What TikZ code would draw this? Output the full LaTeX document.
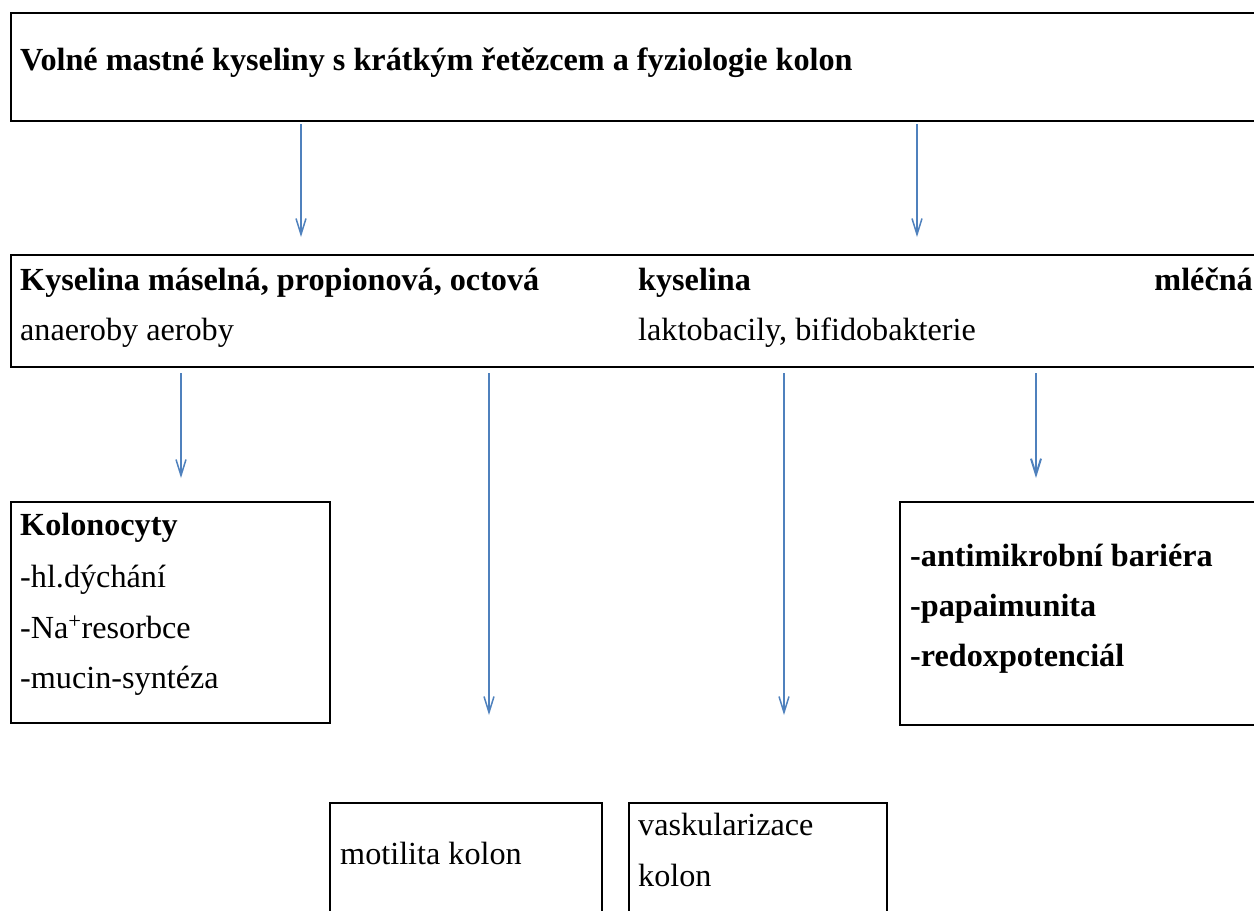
\documentclass[tikz,border=0pt]{standalone}
\usepackage{fontspec}
\setmainfont{Liberation Serif}
\usetikzlibrary{arrows.meta,calc}
\definecolor{arrowblue}{RGB}{79,129,189}
\begin{document}
\begin{tikzpicture}[x=1pt,y=-1pt,
  box/.style={draw, line width=2pt, rectangle, outer sep=0pt, inner sep=0pt, anchor=north west},
  txt/.style={anchor=base west, inner sep=0pt, font=\fontsize{32.2}{38}\selectfont},
  btxt/.style={anchor=base west, inner sep=0pt, font=\fontsize{32.2}{38}\selectfont\bfseries},
  arr/.style={draw=arrowblue, line width=1.5pt, -{Straight Barb[length=16pt,width=10pt]}}]
\useasboundingbox (0,0) rectangle (1254,911);
\clip (0,0) rectangle (1254,911);
% boxes
\node[box, minimum width=1260pt, minimum height=108pt] (top) at (11,13) {};
\node[box, minimum width=1260pt, minimum height=112pt] (mid) at (11,255) {};
\node[box, minimum width=319pt, minimum height=221pt] (kol) at (11,502) {};
\node[box, minimum width=360pt, minimum height=223pt] (anti) at (900,502) {};
\node[box, minimum width=272pt, minimum height=130pt] (mot) at (330,803) {};
\node[box, minimum width=258pt, minimum height=130pt] (vas) at (629,803) {};
% texts
\node[btxt] (t0) at (20,70) {Volné mastné kyseliny s krátkým řetězcem a fyziologie kolon};
\node[btxt] (m1) at (20,290) {Kyselina máselná, propionová, octová};
\node[btxt] (m2) at (638,290) {kyselina};
\node[btxt, anchor=base east] (m3) at (1253,290) {mléčná};
\node[txt] (m4) at (20,340) {anaeroby aeroby};
\node[txt] (m5) at (638,340) {laktobacily, bifidobakterie};
\node[btxt] (k1) at (20,535) {Kolonocyty};
\node[txt] (k2) at (20,587) {-hl.dýchání};
\node[txt] (k3) at (20,638) {-Na\textsuperscript{+}resorbce};
\node[txt] (k4) at (20,688) {-mucin-syntéza};
\node[btxt] (a1) at (910,566) {-antimikrobní bariéra};
\node[btxt] (a2) at (910,616) {-papaimunita};
\node[btxt] (a3) at (910,666) {-redoxpotenciál};
\node[txt] (o1) at (340,864) {motilita kolon};
\node[txt] (v1) at (638,835) {vaskularizace};
\node[txt] (v2) at (638,886) {kolon};
% arrow columns
\coordinate (x1) at (301,0);
\coordinate (x2) at (917,0);
\coordinate (x3) at (181,0);
\coordinate (x4) at (489,0);
\coordinate (x5) at (784,0);
\coordinate (x6) at (1036,0);
\draw[arr] ($(top.south-|x1)+(0,3)$) -- ($(mid.north-|x1)+(0,-18)$);
\draw[arr] ($(top.south-|x2)+(0,3)$) -- ($(mid.north-|x2)+(0,-18)$);
\draw[arr] ($(mid.south-|x3)+(0,6)$) -- ($(kol.north-|x3)+(0,-24)$);
\draw[arr] ($(mid.south-|x4)+(0,6)$) -- ($(mot.north-|x4)+(0,-88)$);
\draw[arr] ($(mid.south-|x5)+(0,6)$) -- ($(vas.north-|x5)+(0,-88)$);
\draw[arr, line width=2pt] ($(mid.south-|x6)+(0,6)$) -- ($(anti.north-|x6)+(0,-24)$);
\end{tikzpicture}
\end{document}
